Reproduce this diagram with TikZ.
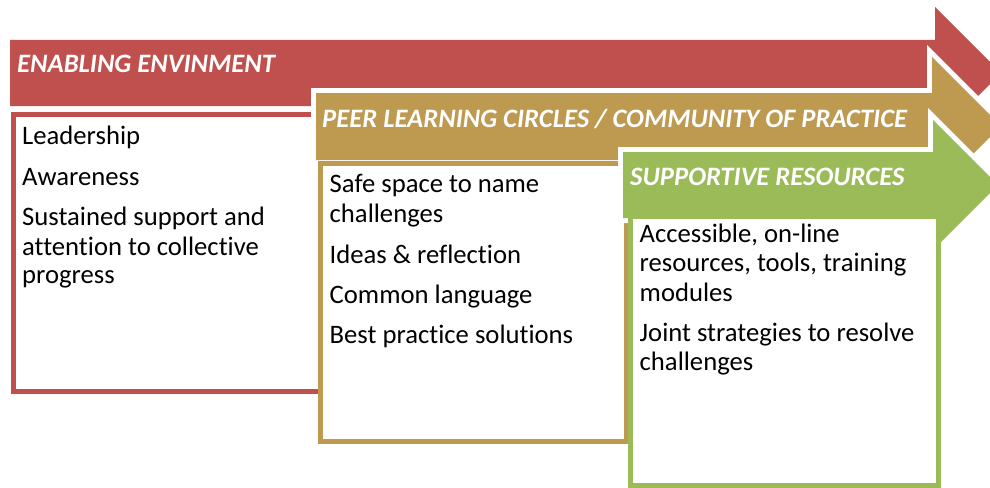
\documentclass[tikz,border=0pt]{standalone}
\usepackage{fontspec}
\setmainfont{Carlito}[Ligatures=NoCommon]
\definecolor{cred}{HTML}{C0504D}
\definecolor{ctan}{HTML}{BE9A50}
\definecolor{cgreen}{HTML}{9BBB59}
\begin{document}
\begin{tikzpicture}[x=1pt,y=-1pt,
  head/.style={font=\fontsize{26.6}{30}\selectfont\bfseries\itshape, text=white, anchor=base west, inner sep=0pt},
  body/.style={font=\fontsize{26.67}{30}\selectfont, text=black, anchor=base west, inner sep=0pt},
  arrowshape/.style={fill=#1, preaction={draw=white, line width=10pt, line join=miter}},
  boxshape/.style={draw=#1, line width=5pt, fill=white}
]
\useasboundingbox (0,0) rectangle (990,487);
\clip (0,0) rectangle (990,487);
\fill[white] (0,0) rectangle (990,487);
% red arrow
\fill[cred] (10,40) -- (935,40) -- (935,7) -- (1001,73) -- (935,139) -- (935,106) -- (10,106) -- cycle;
\node[head] (h1) at (17,73) {ENABLING ENVINMENT};
% red box
\draw[boxshape=cred] (13.5,114.5) rectangle (330,391.5);
% tan arrow
\path[arrowshape=ctan] (316,93) -- (932,93) -- (932,57) -- (1001,126) -- (932,195) -- (932,160) -- (316,160) -- cycle;
\node[head] (h2) at (322,127) {PEER LEARNING CIRCLES / COMMUNITY OF PRACTICE};
% tan box
\draw[boxshape=ctan] (320.5,163) rectangle (626,441.5);
% green arrow
\path[arrowshape=cgreen] (623,152) -- (933,152) -- (933,120) -- (998,185) -- (933,250) -- (933,218) -- (623,218) -- cycle;
\node[head] (h3) at (630,185) {SUPPORTIVE RESOURCES};
% green box
\draw[boxshape=cgreen] (630.5,216) rectangle (938,485);
% red texts
\node[body] (r1) at (22,144) {Leadership};
\node[body] (r2) at (22,185) {Awareness};
\node[body] (r3) at (22,225) {Sustained support and};
\node[body] (r4) at (22,255) {attention to collective};
\node[body] (r5) at (22,283) {progress};
% tan texts
\node[body] (t1) at (329.5,192) {Safe space to name};
\node[body] (t2) at (329.5,222) {challenges};
\node[body] (t3) at (329.5,263) {Ideas \& reflection};
\node[body] (t4) at (329.5,303) {Common language};
\node[body] (t5) at (329.5,343) {Best practice solutions};
% green texts
\node[body] (g1) at (639.5,242) {Accessible, on-line};
\node[body] (g2) at (639.5,271) {resources, tools, training};
\node[body] (g3) at (639.5,301) {modules};
\node[body] (g4) at (639.5,341) {Joint strategies to resolve};
\node[body] (g5) at (639.5,370) {challenges};
\end{tikzpicture}
\end{document}
